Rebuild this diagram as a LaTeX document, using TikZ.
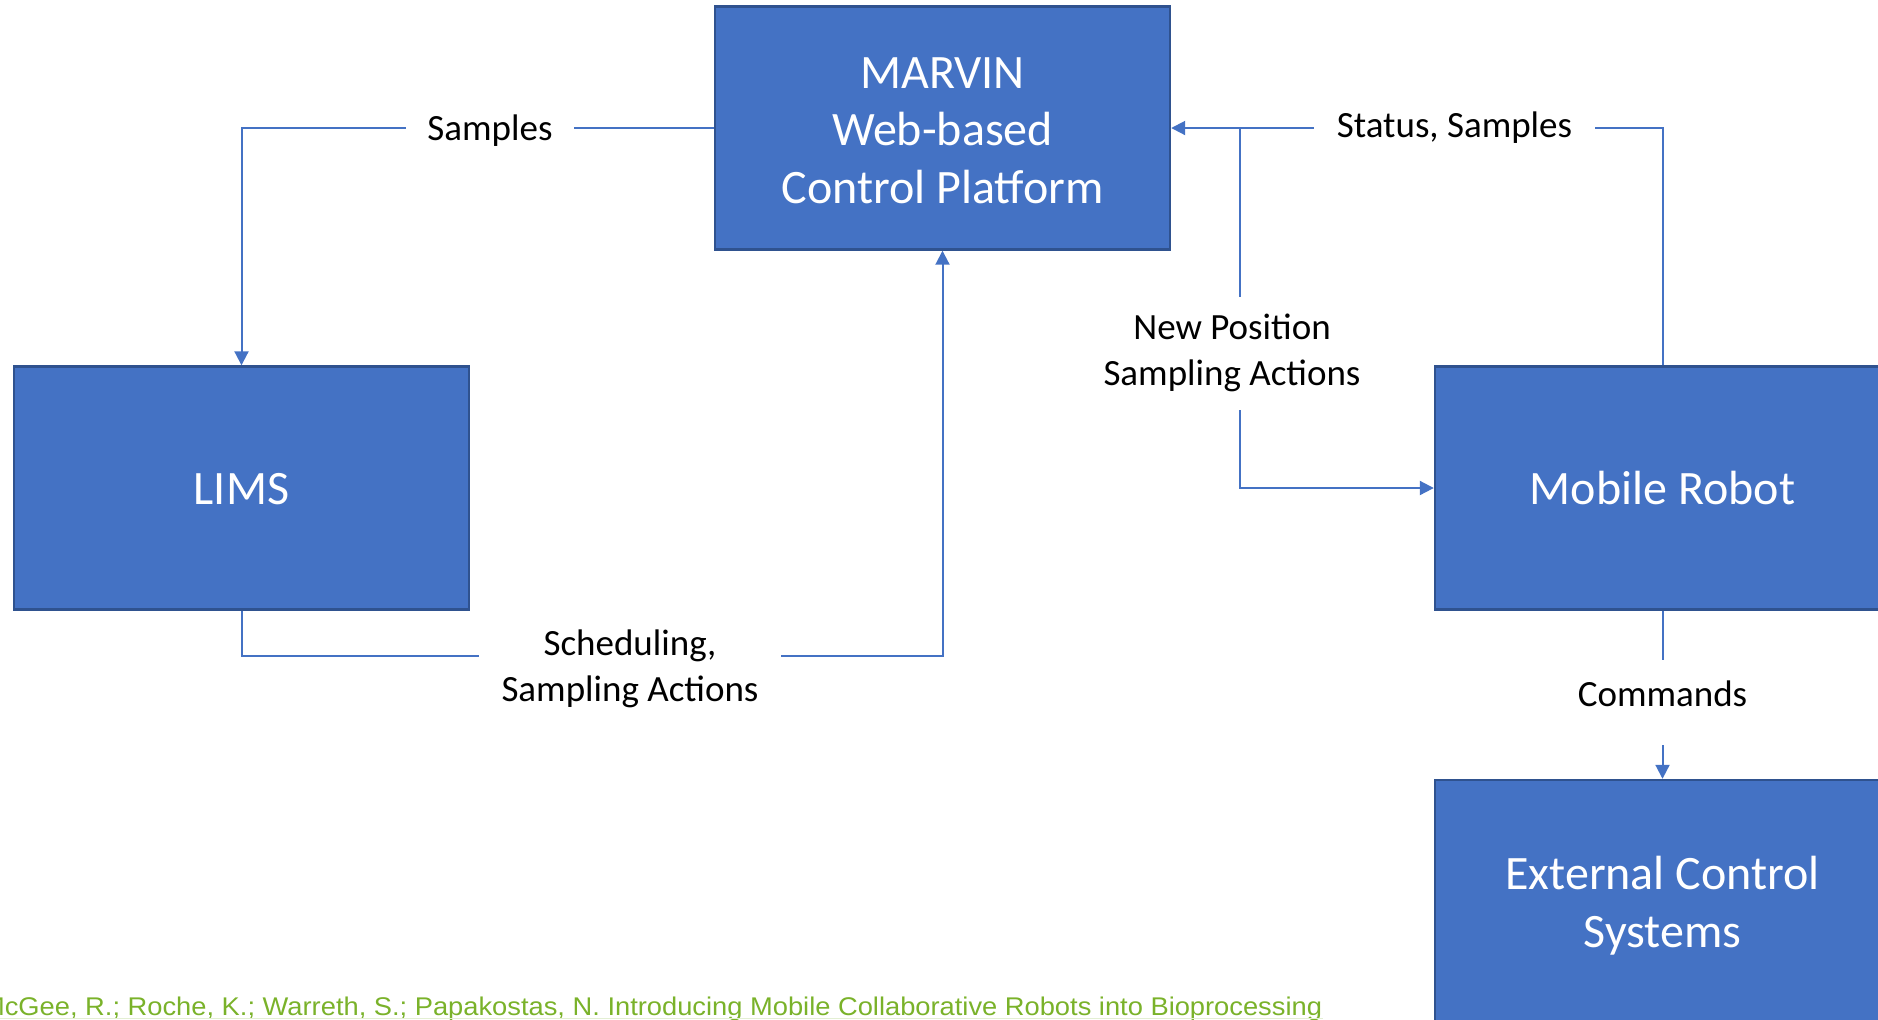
\documentclass[tikz,border=0pt]{standalone}
\usepackage{fontspec}
\setmainfont{Carlito}
\newfontfamily\citefont{Liberation Sans}
\usetikzlibrary{arrows.meta}
\definecolor{boxblue}{HTML}{4472C4}
\definecolor{boxedge}{HTML}{2F528F}
\definecolor{citegreen}{HTML}{7AB22A}
\definecolor{citerule}{HTML}{E3EFD3}

\begin{document}
\begin{tikzpicture}[x=0.5pt,y=-0.5pt,
  block/.style={rectangle, fill=boxblue, draw=boxedge, line width=1.2pt,
    minimum width=227.5pt, minimum height=121.5pt, inner sep=0pt},
  blocktext/.style={text=white, inner sep=0pt, align=center,
    font=\fontsize{24}{28.75}\selectfont},
  flow/.style={draw=boxblue, line width=1pt, -{Triangle[length=7pt,width=7pt]}},
  tag/.style={fill=white, inner sep=0pt, align=center, text=black,
    font=\fontsize{18.5}{22.75}\selectfont}]
\useasboundingbox (0,0) rectangle (1878,1019);

% main blocks
\node[block] (marvin) at (942.5,128) {};
\node[block] (lims) at (241.5,488) {};
\node[block] (robot) at (1662.5,488) {};
\node[block] (ext) at (1662.5,901.5) {};
\node[blocktext] (marvintext) at ([yshift=-1.2pt]marvin.center) {MARVIN\\Web-based\\Control Platform};
\node[blocktext] (limstext) at ([yshift=-0.6pt]lims.center) {LIMS};
\node[blocktext] (robottext) at (robot.center) {Mobile Robot};
\node[blocktext] (exttext) at ([yshift=-2pt]ext.center) {External Control\\Systems};

% connectors
\coordinate (fork) at (1240,128);
\coordinate (schedrow) at (600,656);
\draw[flow] (marvin.west) -| (lims.north);
\draw[flow] (robot.north) |- (marvin.east);
\draw[flow] (fork) |- (robot.west);
\draw[flow] (lims.south) |- (schedrow) -| (marvin.south);
\draw[flow] (robot.south) -- (ext.north);

% connector labels
\node[tag, minimum width=84pt] (lblsamples) at (490,130.5) {Samples};
\node[tag, minimum width=140.5pt] (lblstatus) at (1454.5,127.2) {Status, Samples};
\node[tag, minimum height=56.5pt] (lblnewpos) at (1232,353) {New Position\\Sampling Actions};
\node[tag, minimum width=151pt] (lblsched) at (630,669) {Scheduling,\\Sampling Actions};
\node[tag, minimum height=42.5pt, text depth=9pt] (lblcmd) at (1662.5,702.5) {Commands};

% citation line
\node[anchor=base east, inner sep=0pt, text=citegreen,
  font=\citefont\fontsize{12.8}{15}\selectfont] (cite) at (1322.5,1015.5)
  {\resizebox{670pt}{\height}{McGee, R.; Roche, K.; Warreth, S.; Papakostas, N. Introducing Mobile Collaborative Robots into Bioprocessing}};
\draw[citerule, line width=0.8pt] (0,1018.5) -- (cite.east |- 0,1018.5);
\end{tikzpicture}
\end{document}
